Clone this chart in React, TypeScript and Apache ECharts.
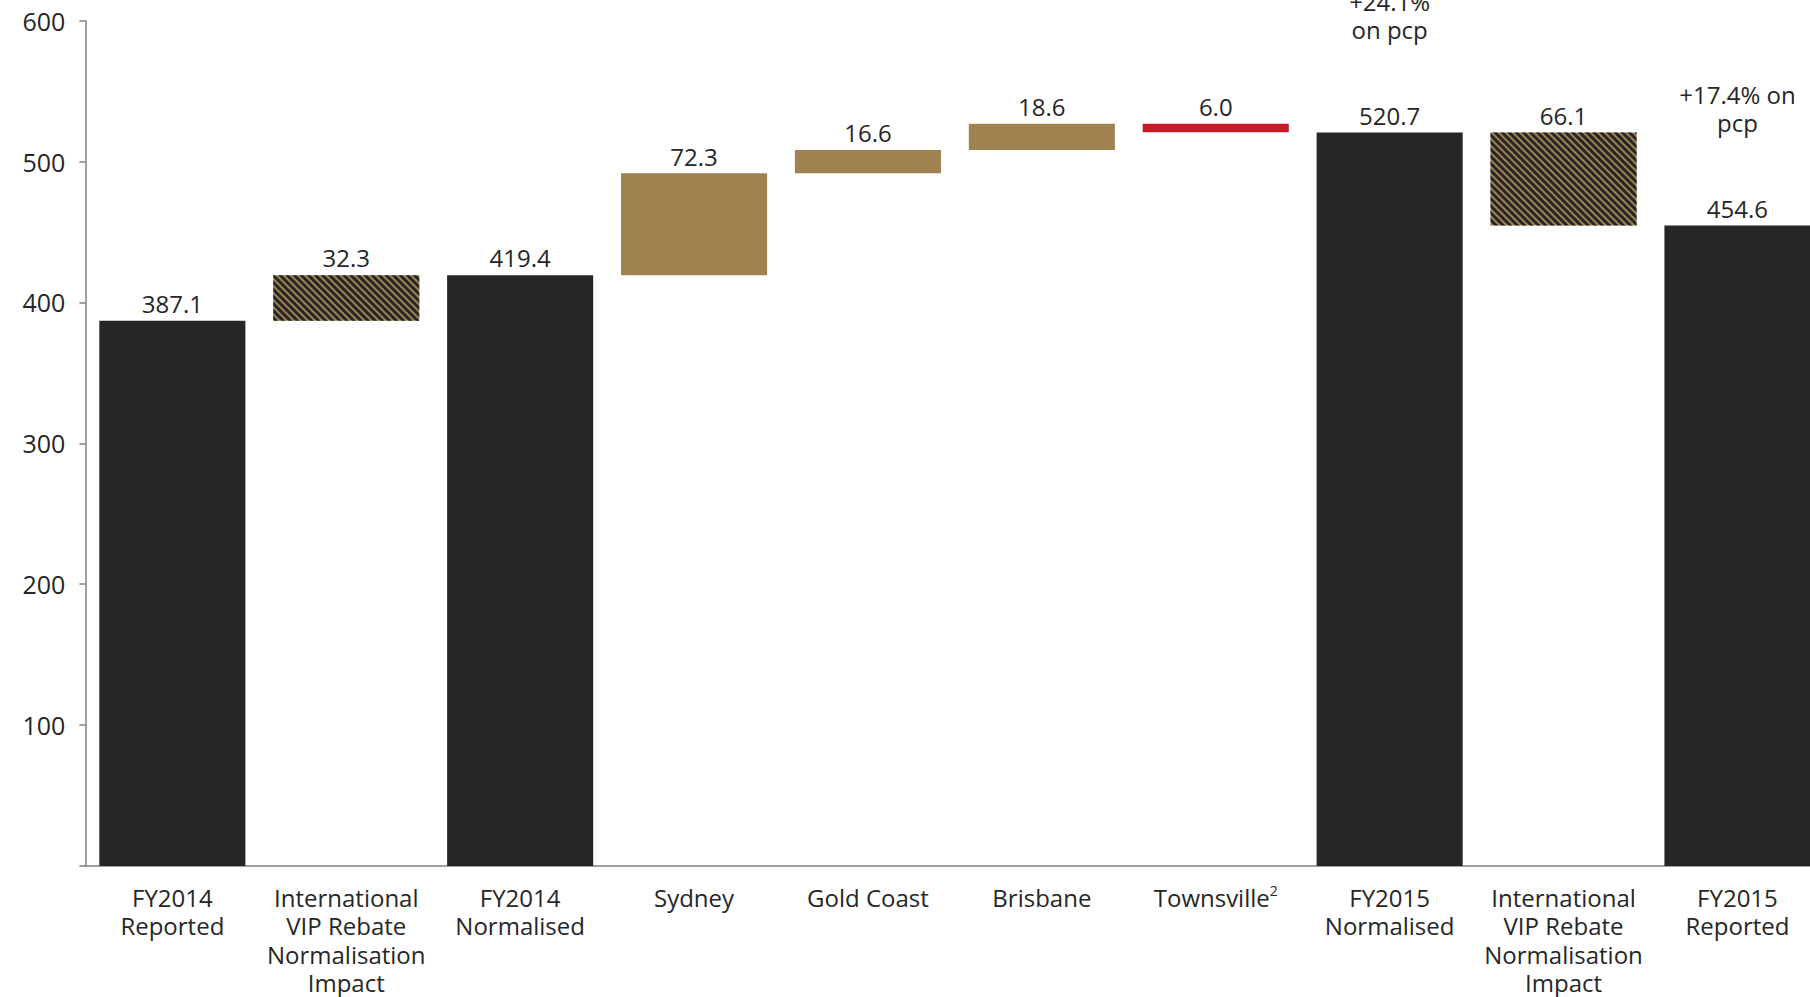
import React, { useEffect, useRef } from "react";
import * as echarts from "echarts";

const categories = [
  "FY2014\nReported",
  "International\nVIP Rebate\nNormalisation\nImpact",
  "FY2014\nNormalised",
  "Sydney",
  "Gold Coast",
  "Brisbane",
  "Townsville",
  "FY2015\nNormalised",
  "International\nVIP Rebate\nNormalisation\nImpact",
  "FY2015\nReported",
];
const footnotes = ["", "", "", "", "", "", "2", "", "", ""];
const kinds = ["total", "adjust", "total", "step", "step", "step", "step", "total", "adjust", "total"];
const changes = [387.1, 32.3, 419.4, 72.3, 16.6, 18.6, -6.0, 520.7, -66.1, 454.6];
const annotations = ["", "", "", "", "", "", "", "+24.1%\non pcp", "", "+17.4% on\npcp"];
const yTicks = [0, 100, 200, 300, 400, 500, 600];

const DARK = "#262626";
const GOLD = "#a08250";
const RED = "#c21b24";
const FONT = "Open Sans";

export default function App() {
  const ref = useRef<HTMLDivElement>(null);
  useEffect(() => {
    if (!ref.current) return;
    const chart = echarts.init(ref.current, null, { renderer: "svg" });

    const bases: number[] = [];
    const heights: any[] = [];
    let running = 0;
    changes.forEach((v, i) => {
      const k = kinds[i];
      if (k === "total") {
        bases.push(0);
        running = v;
        heights.push({ value: v, itemStyle: { color: DARK } });
      } else {
        const start = running;
        running = +(running + v).toFixed(1);
        bases.push(Math.min(start, running));
        const style: any =
          k === "adjust"
            ? {
                color: GOLD,
                decal: {
                  symbol: "rect",
                  symbolSize: 1,
                  dashArrayX: [1, 0],
                  dashArrayY: [3, 2],
                  rotation: Math.PI / 4,
                  color: DARK,
                },
              }
            : { color: v < 0 ? RED : GOLD };
        heights.push({ value: Math.abs(v), itemStyle: style });
      }
    });

    chart.setOption({
      animation: false,
      textStyle: { fontFamily: FONT },
      grid: { left: 85.4, top: 20.7, right: 15.6, height: 846, containLabel: false },
      xAxis: {
        type: "category",
        data: categories,
        axisLine: { lineStyle: { color: "#808080", width: 1.5 } },
        axisTick: { length: 8, lineStyle: { color: "#808080", width: 1.5 } },
        axisLabel: {
          interval: 0,
          margin: 17,
          fontSize: 24,
          lineHeight: 28.5,
          color: DARK,
          fontFamily: FONT,
          formatter: (val: string, idx: number) =>
            footnotes[idx] ? `${val}{sup|${footnotes[idx]}}` : val,
          rich: {
            sup: { fontSize: 14, verticalAlign: "top", color: DARK, fontFamily: FONT, lineHeight: 16 },
          },
        },
      },
      yAxis: {
        type: "value",
        min: yTicks[0],
        max: yTicks[yTicks.length - 1],
        interval: 100,
        splitLine: { show: false },
        axisLine: { show: true, lineStyle: { color: "#808080", width: 1.5 } },
        axisTick: { show: true, length: 6, lineStyle: { color: "#808080", width: 1.5 } },
        axisLabel: {
          margin: 20,
          fontSize: 25,
          color: DARK,
          fontFamily: FONT,
          formatter: (v: number) => (v === 0 ? "" : String(v)),
        },
      },
      series: [
        {
          type: "bar",
          stack: "wf",
          silent: true,
          barWidth: "84%",
          itemStyle: { color: "transparent" },
          data: bases,
        },
        {
          type: "bar",
          stack: "wf",
          barWidth: "84%",
          data: heights,
          label: {
            show: true,
            position: "top",
            distance: 3,
            fontSize: 24,
            lineHeight: 28.5,
            color: DARK,
            fontFamily: FONT,
            formatter: (p: any) => {
              const txt = Math.abs(changes[p.dataIndex]).toFixed(1);
              const a = annotations[p.dataIndex];
              return a ? `${a}\n\n\n${txt}` : txt;
            },
          },
        },
      ],
    });
    return () => chart.dispose();
  }, []);
  return (
    <div
      style={{ position: "fixed", left: 0, top: 0, width: 1810, height: 997, overflow: "hidden", background: "#fff" }}
    >
      <div ref={ref} style={{ width: 1840, height: 997 }} />
    </div>
  );
}
